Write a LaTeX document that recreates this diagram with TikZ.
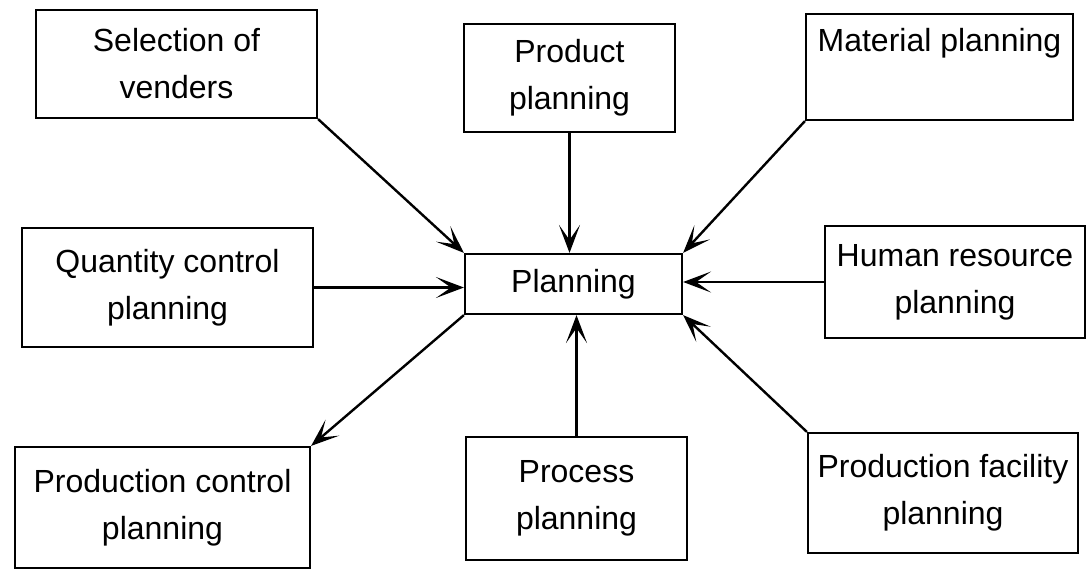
\documentclass[tikz,border=0pt]{standalone}
\usepackage{fontspec}
\setmainfont{Liberation Sans}
\usetikzlibrary{arrows.meta}

\begin{document}
\begin{tikzpicture}[x=1pt,y=-1pt,
  box/.style={draw, line width=2.2pt, align=center, inner sep=0pt,
    font=\fontsize{32}{47}\selectfont},
  arr/.style={draw, line width=2.4pt, -{Stealth[length=28pt,width=21pt,inset=15pt]}}]
  \useasboundingbox (0,0) rectangle (1088,571);

  % centre hub
  \node[box, minimum width=217pt, minimum height=60pt] (plan) at (573.5,284) {Planning};

  % surrounding planning activities
  \node[box, minimum width=281pt, minimum height=108pt] (sel)  at (176.5,64)  {Selection of\\venders};
  \node[box, minimum width=211pt, minimum height=108pt] (prod) at (569.5,78)  {Product\\planning};
  \node[box, minimum width=267pt, minimum height=106pt] (mat)  at (939.5,67)  {Material planning\\\vphantom{g}};
  \node[box, minimum width=291pt, minimum height=119pt] (qty)  at (167.5,287.5) {Quantity control\\planning};
  \node[box, minimum width=260pt, minimum height=112pt] (hum)  at (955,282)  {Human resource\\planning};
  \node[box, minimum width=295pt, minimum height=121pt] (pcp)  at (162.5,507.5) {Production control\\planning};
  \node[box, minimum width=221pt, minimum height=123pt] (proc) at (576.5,498.5) {Process\\planning};
  \node[box, minimum width=270pt, minimum height=120pt] (fac)  at (943,493)  {Production facility\\planning};

  % connectors
  \path[arr] (sel.south east) -- (plan.north west);
  \path[arr] (prod.south) -- (prod.south |- plan.north);
  \path[arr] (mat.south west) -- (plan.north east);
  \path[arr] (qty.east) -- (qty.east -| plan.west);
  \path[arr] (hum.west) -- (hum.west -| plan.east);
  \path[arr] (plan.south west) -- (pcp.north east);
  \path[arr] (proc.north) -- (proc.north |- plan.south);
  \path[arr] (fac.north west) -- (plan.south east);
\end{tikzpicture}
\end{document}
